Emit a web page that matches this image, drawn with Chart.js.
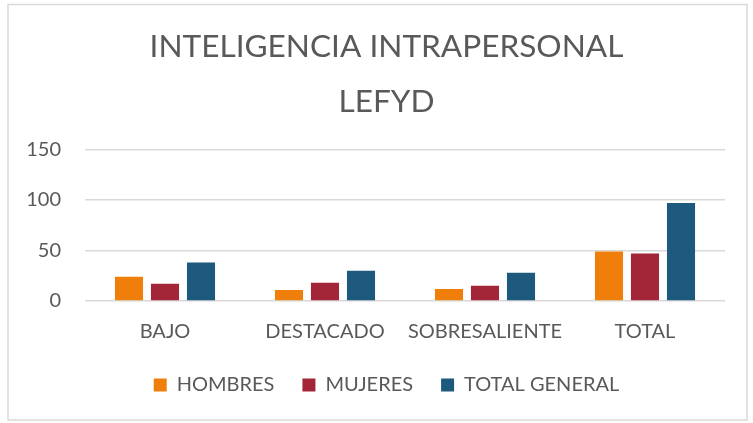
<!DOCTYPE html>
<html>
<head>
<meta charset="utf-8">
<script src="https://cdn.jsdelivr.net/npm/chart.js@4/dist/chart.umd.min.js"></script>
<style>
html,body{margin:0;padding:0;background:#fff;}
#wrap{position:absolute;left:0;top:0;width:753px;height:423px;}
</style>
</head>
<body>
<div id="wrap"><canvas id="c" width="753" height="423"></canvas></div>
<script>
const categories = ["BAJO", "DESTACADO", "SOBRESALIENTE", "TOTAL"];
const hombres = [24, 11, 12, 49];
const mujeres = [17, 18, 15, 47];
const totalGeneral = [38, 30, 28, 97];
const yTicks = [0, 50, 100, 150];
const titleLines = ["INTELIGENCIA INTRAPERSONAL", "LEFYD"];

const FONT = "Lato, 'Open Sans', sans-serif";
const TXT = "#595959";

const borderPlugin = {
  id: 'outerBorder',
  beforeDraw(chart) {
    const ctx = chart.ctx;
    ctx.save();
    ctx.fillStyle = '#fff';
    ctx.fillRect(0, 0, chart.width, chart.height);
    ctx.strokeStyle = '#d9d9d9';
    ctx.lineWidth = 1.5;
    ctx.strokeRect(8, 4.5, 739, 415.5);
    ctx.restore();
  }
};

new Chart(document.getElementById('c'), {
  type: 'bar',
  data: {
    labels: categories,
    datasets: [
      { label: 'HOMBRES', data: hombres, backgroundColor: '#EF7F0A' },
      { label: 'MUJERES', data: mujeres, backgroundColor: '#A22638' },
      { label: 'TOTAL GENERAL', data: totalGeneral, backgroundColor: '#1D597C' }
    ]
  },
  options: {
    responsive: false,
    animation: false,
    devicePixelRatio: 1,
    layout: { padding: { left: 20, right: 0, top: 0, bottom: 18 } },
    datasets: { bar: { categoryPercentage: 0.675, barPercentage: 0.78 } },
    plugins: {
      title: {
        display: true,
        text: titleLines,
        color: TXT,
        font: { family: FONT, size: 31.6, weight: 'normal', lineHeight: 1.74 },
        padding: { top: 19.5, bottom: 20 }
      },
      legend: {
        position: 'bottom',
        labels: {
          color: TXT,
          font: { family: FONT, size: 20 },
          boxWidth: 13,
          boxHeight: 13,
          padding: 28
        }
      },
      tooltip: { enabled: false }
    },
    scales: {
      x: {
        grid: { display: false, drawTicks: false },
        border: { display: false },
        ticks: { color: TXT, font: { family: FONT, size: 20 }, padding: 19,
                 maxRotation: 0, minRotation: 0, autoSkip: false },
        afterFit(s) { s.height = 46; }
      },
      y: {
        min: 0, max: 150,
        afterBuildTicks(s) { s.ticks = yTicks.map(v => ({ value: v })); },
        grid: { color: '#d9d9d9', lineWidth: 1.5, drawTicks: false },
        border: { display: false },
        ticks: { color: TXT, font: { family: FONT, size: 20 }, padding: 24 },
        afterFit(s) { s.width = 65; }
      },
      yR: {
        position: 'right',
        display: true,
        grid: { display: false, drawTicks: false },
        border: { display: false },
        ticks: { display: false },
        afterFit(s) { s.width = 28; }
      }
    }
  },
  plugins: [borderPlugin]
});
</script>
</body>
</html>
